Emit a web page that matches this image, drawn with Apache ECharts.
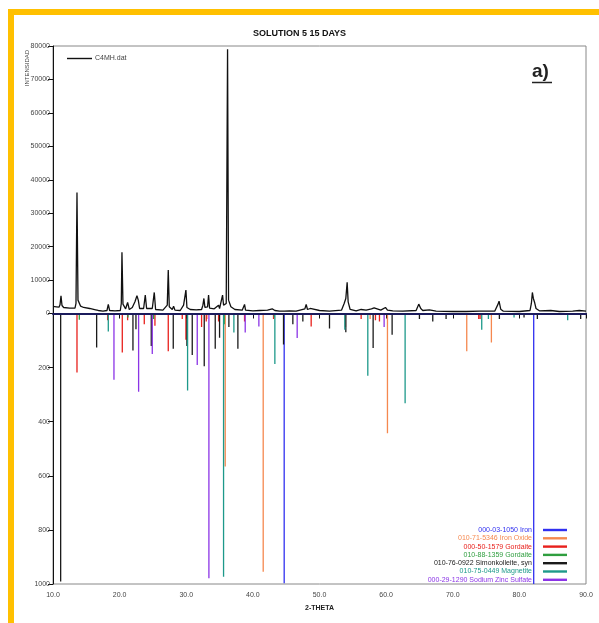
<!DOCTYPE html>
<html>
<head>
<meta charset="utf-8">
<script src="https://cdn.jsdelivr.net/npm/echarts@6/dist/echarts.min.js"></script>
<style>
html,body{margin:0;padding:0;background:#fff;}
#chart{width:599px;height:623px;}
</style>
</head>
<body>
<div id="chart"></div>
<script>
// ---- Observed pattern (2-theta, intensity counts) ----
const patternTheta = [10.0,10.5,10.9,11.05,11.2,11.35,11.6,12.5,13.3,13.45,13.6,13.75,13.95,14.15,14.6,15.5,16.4,16.6,16.8,17.5,18.1,18.3,18.5,19.3,20.1,20.25,20.35,20.5,20.9,21.2,21.45,21.9,22.3,22.6,22.8,23.0,23.6,23.85,24.05,24.9,25.2,25.4,26.5,27.15,27.3,27.45,27.9,28.1,28.3,29.1,29.6,29.85,29.95,30.1,30.6,31.5,32.3,32.5,32.65,32.8,33.2,33.35,33.5,34.2,34.5,34.85,35.0,35.3,35.45,35.6,36.0,36.2,36.35,36.5,36.7,37.0,37.3,38.4,38.75,38.9,40.0,41.0,42.2,42.9,43.3,44.0,44.7,45.5,46.5,47.8,48.0,48.2,48.6,48.75,48.9,50.0,51.5,53.3,53.7,53.95,54.15,54.3,54.6,55.5,56.25,57.0,57.8,58.2,58.5,59.2,59.9,60.2,61.0,62.5,64.5,64.9,65.2,65.5,66.5,67.5,70.0,72.0,74.0,76.3,76.8,76.95,77.2,77.6,80.0,81.6,81.8,81.95,82.1,82.3,82.5,83.0,84.7,86.0,88.0,89.0,90.0];
const patternCounts = [2100,2000,1900,2600,5300,2400,1800,1600,1600,3000,36200,4000,3600,2200,1800,1500,1100,1300,900,700,900,2700,900,800,900,3000,18300,2800,1400,3300,1200,1800,3500,5300,4000,1500,1500,5500,1500,1500,6300,1200,1000,2500,13000,2000,1200,2200,1000,900,2500,3000,7000,1800,1200,1100,1200,2500,4500,1800,2000,5500,1600,1400,1600,2500,1500,2000,5500,2500,3000,79000,4000,3500,2000,2000,1200,1000,2700,1000,800,900,1000,1400,900,700,700,800,700,1400,2700,1200,1500,2000,1100,900,700,1000,3000,4500,9300,3500,1200,800,1200,1000,1400,1700,1200,1000,1800,1000,800,700,900,2800,1500,900,1100,700,600,600,700,700,2800,3700,1300,700,600,900,3000,6300,4500,3200,1500,800,900,600,700,900,700];

// ---- Reference sticks: [2-theta, relative intensity 0..1000] ----
const ironSticks = [[44.7,997],[82.15,1000]];
const ironOxideSticks = [[33.1,20],[35.85,566],[41.55,955],[57.6,20],[60.2,443],[72.1,140],[75.8,107]];
const gordaiteRedSticks = [[13.6,218],[18.2,25],[20.4,144],[21.2,25],[23.7,40],[25.3,45],[27.3,140],[29.4,20],[29.95,97],[32.3,50],[33.0,30],[34.85,30],[38.75,30],[43.1,20],[48.75,48],[53.9,50],[56.25,20],[58.4,25],[59.0,30],[73.9,20],[74.1,20]];
const gordaiteGreenSticks = [[13.95,23],[21.25,15],[25.1,20],[35.7,40],[43.2,15]];
const simonkolleiteSticks = [[11.15,991],[16.55,126],[22.0,137],[22.45,58],[24.75,120],[28.05,130],[30.1,120],[30.9,153],[32.7,195],[34.35,130],[35.0,90],[36.4,50],[37.75,130],[44.6,115],[46.0,40],[47.5,30],[51.5,55],[53.95,69],[58.05,128],[60.9,79],[65.0,20],[67.0,30],[69.0,20],[77.0,20],[80.7,15],[82.7,20],[89.2,20]];
const magnetiteSticks = [[18.3,67],[30.2,285],[35.6,973],[37.15,70],[43.3,187],[53.8,60],[57.25,230],[62.85,332],[74.35,60],[75.35,20],[79.2,15],[87.25,25]];
const sodiumZincSulfateSticks = [[19.15,245],[22.85,289],[24.9,150],[31.65,190],[33.4,979],[38.85,70],[40.9,48],[46.65,91],[59.7,50]];

const phaseNames = ['000-03-1050 Iron','010-71-5346 Iron Oxide','000-50-1579 Gordaite','010-88-1359 Gordaite','010-76-0922 Simonkolleite, syn','010-75-0449 Magnetite','000-29-1290 Sodium Zinc Sulfate'];
const phaseColors = ['#3030f0','#f5884f','#e8201c','#2f9e3f','#1a1a1a','#1d998a','#8b34e6'];
const phaseSticks = [ironSticks, ironOxideSticks, gordaiteRedSticks, gordaiteGreenSticks, simonkolleiteSticks, magnetiteSticks, sodiumZincSulfateSticks];

const topTicks = {min:0, max:80000, interval:10000};
const bottomTicks = {min:0, max:1000, interval:200};
const xTicks = {min:10, max:90, interval:10};

const FONT = "'Liberation Sans Narrow','Liberation Sans',Arial,sans-serif";

const chart = echarts.init(document.getElementById('chart'), null, {renderer:'canvas'});

const stickSeries = phaseNames.map((name, i) => ({
  name: name,
  type: 'custom',
  xAxisIndex: 1,
  yAxisIndex: 1,
  itemStyle: {color: phaseColors[i]},
  encode: {x: 0, y: 1},
  data: phaseSticks[i],
  clip: true,
  renderItem: function (params, api) {
    const p0 = api.coord([api.value(0), 0]);
    const p1 = api.coord([api.value(0), api.value(1)]);
    return {type: 'line', shape: {x1: p0[0], y1: p0[1], x2: p1[0], y2: p1[1]},
            style: {stroke: phaseColors[i], lineWidth: 1.3}};
  }
}));

const axisCommon = {
  axisLine: {show: true, lineStyle: {color: '#111', width: 1}},
  axisTick: {show: true, inside: false, length: 5, lineStyle: {color: '#111'}},
  splitLine: {show: false},
  axisLabel: {fontSize: 7, color: '#444', fontFamily: FONT, margin: 3}
};

chart.setOption({
  animation: false,
  backgroundColor: '#ffffff',
  grid: [
    {left: 53, right: 13, top: 46, height: 267.5, show: true, borderColor: '#888', borderWidth: 1, backgroundColor: 'transparent'},
    {left: 53, right: 13, top: 313.5, height: 270.5, show: true, borderColor: '#888', borderWidth: 1, backgroundColor: 'transparent'}
  ],
  xAxis: [
    {type: 'value', gridIndex: 0, min: xTicks.min, max: xTicks.max, interval: xTicks.interval,
     axisLine: {show: true, onZero: false, lineStyle: {color: '#1b1b5c', width: 2}},
     axisTick: {show: false}, axisLabel: {show: false}, splitLine: {show: false}, z: 5},
    Object.assign({}, axisCommon, {type: 'value', gridIndex: 1, min: xTicks.min, max: xTicks.max, interval: xTicks.interval,
     position: 'bottom',
     axisLabel: Object.assign({}, axisCommon.axisLabel, {margin: 8, formatter: v => v.toFixed(1)}),
     name: '2-THETA', nameLocation: 'middle', nameGap: 21,
     nameTextStyle: {fontSize: 7, fontWeight: 'bold', color: '#222', fontFamily: "'Liberation Sans',Arial,sans-serif"}})
  ],
  yAxis: [
    Object.assign({}, axisCommon, {type: 'value', gridIndex: 0, min: topTicks.min, max: topTicks.max, interval: topTicks.interval,
     axisLabel: Object.assign({}, axisCommon.axisLabel, {formatter: v => String(v)})}),
    Object.assign({}, axisCommon, {type: 'value', gridIndex: 1, inverse: true, min: bottomTicks.min, max: bottomTicks.max, interval: bottomTicks.interval,
     axisLabel: Object.assign({}, axisCommon.axisLabel, {formatter: v => v === 0 ? '' : String(v)})})
  ],
  legend: [
    {data: [{name: 'C4MH.dat', icon: 'rect'}], left: 62, top: 50, orient: 'horizontal',
     itemWidth: 25, itemHeight: 1.4, itemGap: 2,
     textStyle: {fontSize: 7, color: '#444', fontFamily: FONT, padding: [0, 0, 0, -2]}},
    {data: phaseNames.map((n, i) => ({name: n, icon: 'rect', textStyle: {color: phaseColors[i] === '#1a1a1a' ? '#222' : phaseColors[i]}})),
     orient: 'vertical', align: 'right', right: 27, top: 521,
     itemWidth: 24, itemHeight: 2.4, itemGap: 0.3, selectedMode: false,
     textStyle: {fontSize: 7, lineHeight: 8, fontFamily: FONT, padding: [0, 6, 0, 0]}}
  ],
  graphic: [
    {type: 'rect', shape: {x: 8, y: 9, width: 591, height: 6}, style: {fill: '#ffc000'}, silent: true},
    {type: 'rect', shape: {x: 8, y: 9, width: 6, height: 614}, style: {fill: '#ffc000'}, silent: true},
    {type: 'text', left: 'center', top: 29, style: {text: 'SOLUTION 5 15 DAYS', font: "bold 9px 'Liberation Sans',Arial,sans-serif", fill: '#111'}},
    {type: 'text', x: 532, y: 62, style: {text: 'a)', font: "bold 19px 'Liberation Sans',Arial,sans-serif", fill: '#222'}},
    {type: 'line', shape: {x1: 532, y1: 82.5, x2: 552, y2: 82.5}, style: {stroke: '#222', lineWidth: 1.5}},
    {type: 'text', x: 27, y: 68, rotation: Math.PI / 2,
     style: {text: 'INTENSIDAD', font: "6px 'Liberation Sans',Arial,sans-serif", fill: '#444', align: 'center', verticalAlign: 'middle'}}
  ],
  series: [
    {name: 'C4MH.dat', type: 'line', xAxisIndex: 0, yAxisIndex: 0, showSymbol: false, symbol: 'none',
     itemStyle: {color: '#111'}, lineStyle: {color: '#111', width: 1.3},
     data: patternTheta.map((t, i) => [t, patternCounts[i]]), z: 4}
  ].concat(stickSeries)
});
</script>
</body>
</html>
